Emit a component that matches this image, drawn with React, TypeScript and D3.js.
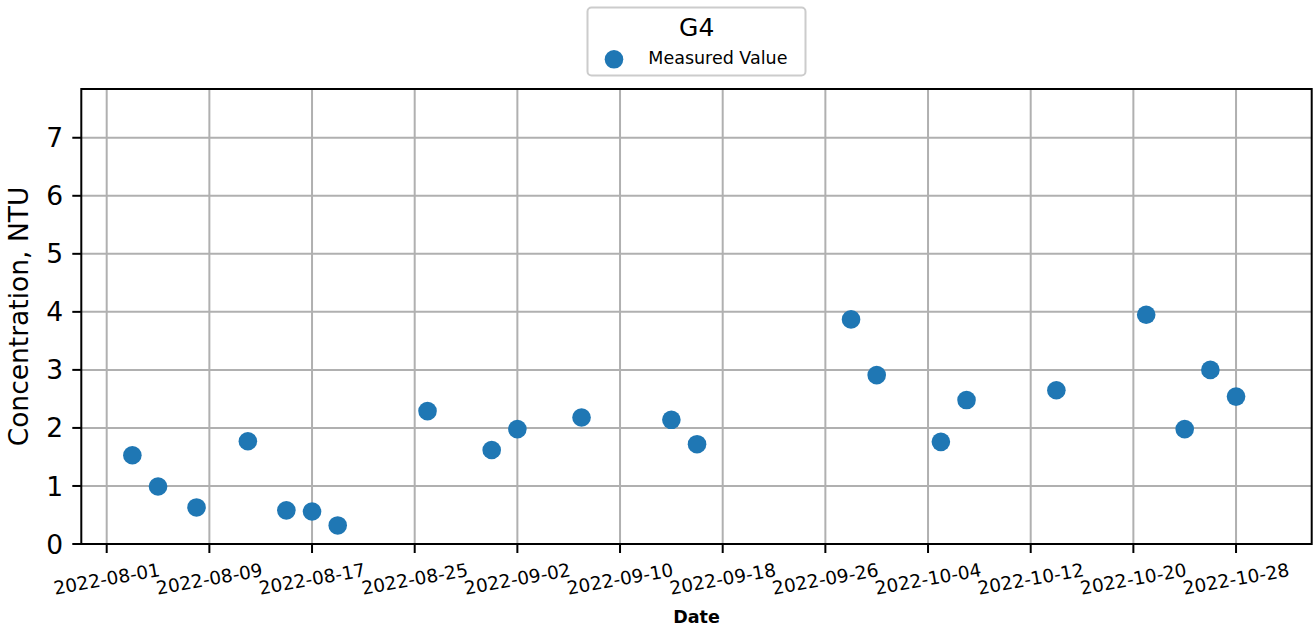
import React from "react";
import * as d3 from "d3";

const title = "G4";
const seriesName = "Measured Value";
const xLabel = "Date";
const yLabel = "Concentration, NTU";

const dates = [
  "2022-08-03", "2022-08-05", "2022-08-08", "2022-08-12", "2022-08-15", "2022-08-17", "2022-08-19",
  "2022-08-26", "2022-08-31", "2022-09-02", "2022-09-07", "2022-09-14", "2022-09-16",
  "2022-09-28", "2022-09-30", "2022-10-05", "2022-10-07", "2022-10-14",
  "2022-10-21", "2022-10-24", "2022-10-26", "2022-10-28",
];
const values = [
  1.53, 0.99, 0.63, 1.77, 0.58, 0.56, 0.32,
  2.29, 1.62, 1.98, 2.18, 2.14, 1.72,
  3.87, 2.91, 1.76, 2.48, 2.65,
  3.95, 1.98, 3.0, 2.54,
];

const xTickDates = [
  "2022-08-01", "2022-08-09", "2022-08-17", "2022-08-25", "2022-09-02", "2022-09-10",
  "2022-09-18", "2022-09-26", "2022-10-04", "2022-10-12", "2022-10-20", "2022-10-28",
];
const yTicks = [0, 1, 2, 3, 4, 5, 6, 7];
const xDomain = ["2022-07-30T00:30:00", "2022-11-02T21:30:00"];
const yDomain = [0, 7.84];

const W = 1315;
const H = 631;
const L = 81.3, R = 1311.7, T = 89, B = 544;
const FONT = "DejaVu Sans, sans-serif";
const BLUE = "#1f77b4";

const parse = (s: string) => new Date(s.length === 10 ? s + "T00:00:00" : s);

export default function App() {
  const x = d3.scaleTime().domain(xDomain.map(parse)).range([L, R]);
  const y = d3.scaleLinear().domain(yDomain).range([B, T]);
  const fmt = d3.timeFormat("%Y-%m-%d");
  const pts = dates.map((d, i) => ({ d: parse(d), v: values[i] }));

  return (
    <svg width={W} height={H} style={{ position: "absolute", left: 0, top: 0, background: "#fff" }} fontFamily={FONT}>
      <rect x={0} y={0} width={W} height={H} fill="#fff" />
      {/* grid */}
      {xTickDates.map((t) => (
        <line key={"gx" + t} x1={x(parse(t))} x2={x(parse(t))} y1={T} y2={B} stroke="#b0b0b0" strokeWidth={2} />
      ))}
      {yTicks.map((t) => (
        <line key={"gy" + t} x1={L} x2={R} y1={y(t)} y2={y(t)} stroke="#b0b0b0" strokeWidth={2} />
      ))}
      {/* points */}
      {pts.map((p, i) => (
        <circle key={i} cx={x(p.d)} cy={y(p.v)} r={9.3} fill={BLUE} />
      ))}
      {/* spines */}
      <rect x={L} y={T} width={R - L} height={B - T} fill="none" stroke="#000" strokeWidth={2} />
      {/* x ticks */}
      {xTickDates.map((t) => {
        const xx = x(parse(t));
        return (
          <g key={"xt" + t}>
            <line x1={xx} x2={xx} y1={B} y2={B + 9} stroke="#000" strokeWidth={2} />
            <text
              x={xx}
              y={579}
              dy="0.35em"
              textAnchor="middle"
              fontSize={18.5}
              transform={`rotate(-10, ${xx}, 579)`}
              fill="#000"
            >
              {fmt(parse(t))}
            </text>
          </g>
        );
      })}
      {/* y ticks */}
      {yTicks.map((t) => (
        <g key={"yt" + t}>
          <line x1={L - 9} x2={L} y1={y(t)} y2={y(t)} stroke="#000" strokeWidth={2} />
          <text x={63} y={y(t)} dy="0.36em" textAnchor="end" fontSize={26.5} fill="#000">
            {t}
          </text>
        </g>
      ))}
      {/* axis labels */}
      <text x={(L + R) / 2} y={623} textAnchor="middle" fontSize={17.5} fontWeight="bold" fill="#000">
        {xLabel}
      </text>
      <text transform={`translate(28, ${(T + B) / 2}) rotate(-90)`} textAnchor="middle" fontSize={26.5} fill="#000">
        {yLabel}
      </text>
      {/* legend */}
      <rect x={587.5} y={7.5} width={218} height={68} rx={4} fill="#fff" fillOpacity={0.8} stroke="#cccccc" strokeWidth={2} />
      <text x={696.7} y={36} textAnchor="middle" fontSize={25} fill="#000">
        {title}
      </text>
      <circle cx={614} cy={59.3} r={9.3} fill={BLUE} />
      <text x={648.3} y={64} fontSize={17.5} fill="#000">
        {seriesName}
      </text>
    </svg>
  );
}
